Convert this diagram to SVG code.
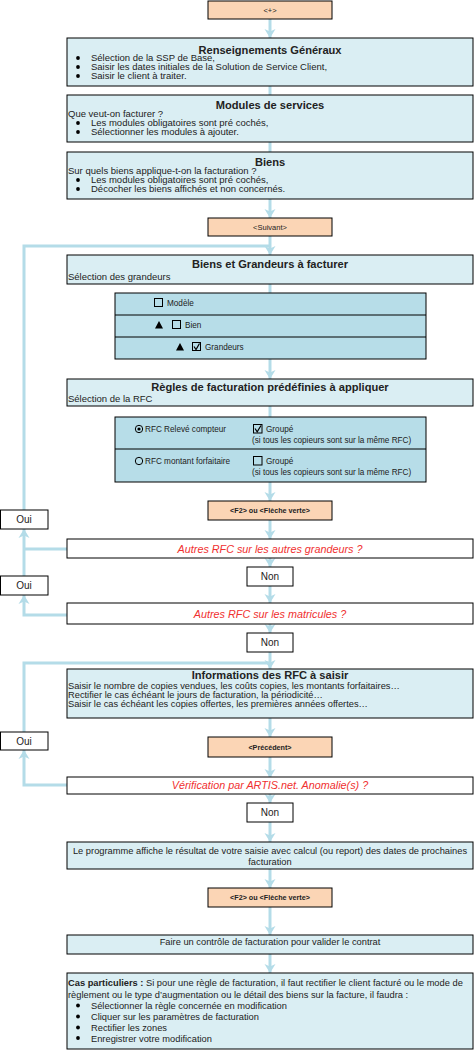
<svg xmlns="http://www.w3.org/2000/svg" width="474" height="1050" viewBox="0 0 474 1050">
<style>
text{font-family:"Liberation Sans",Arial,sans-serif;fill:#222}
.box{fill:#DAEEF3;stroke:#000;stroke-width:1}
.tbl{fill:#B7DDE8;stroke:#000;stroke-width:1}
.peach{fill:#FBD5B5;stroke:#000;stroke-width:1}
.wb{fill:#fff;stroke:#000;stroke-width:1}
.title{font-size:11.1px;font-weight:bold;text-anchor:middle}
.body{font-size:9.5px}
.cas{font-size:9.3px}
.ctr{font-size:9.3px;text-anchor:middle}
.sm{font-size:7.5px;text-anchor:middle}
.smb{font-size:7.2px;font-weight:bold;text-anchor:middle}
.q{font-size:10.8px;font-style:italic;fill:#F03030;text-anchor:middle}
.yn{font-size:10px;text-anchor:middle}
.t7{font-size:8.2px}
.cb{fill:none;stroke:#000;stroke-width:1}
.ck{fill:none;stroke:#000;stroke-width:1.2}
.con{fill:none;stroke:#B4DCE8;stroke-width:3}
.arr{marker-end:url(#ah)}
</style>
<defs>
<marker id="ah" markerUnits="userSpaceOnUse" markerWidth="10" markerHeight="12" refX="9" refY="6" orient="auto">
<path d="M0,0.5 L9,6 L0,11.5 L2.5,6 z" fill="#B4DCE8"/>
</marker>
</defs>

<g id="connectors">
<path class="con arr" d="M270,19 V38"/>
<path class="con" d="M270,86 V95"/>
<path class="con" d="M270,142 V152"/>
<path class="con arr" d="M270,199 V218"/>
<path class="con arr" d="M270,236 V255"/>
<path class="con" d="M24,510 V246 H270"/>
<path class="con" d="M270,284 V293"/>
<path class="con arr" d="M270,359 V379"/>
<path class="con" d="M270,406 V417"/>
<path class="con arr" d="M270,482 V501"/>
<path class="con arr" d="M270,520 V539"/>
<path class="con arr" d="M270,558 V567"/>
<path class="con arr" d="M270,586 V603"/>
<path class="con arr" d="M270,624 V633"/>
<path class="con arr" d="M270,652 V669"/>
<path class="con" d="M24,732 V663 H270"/>
<path class="con arr" d="M270,718 V737"/>
<path class="con arr" d="M270,757 V778"/>
<path class="con arr" d="M270,794 V803"/>
<path class="con arr" d="M270,822 V842"/>
<path class="con arr" d="M270,869 V888"/>
<path class="con arr" d="M270,907 V935"/>
<path class="con arr" d="M270,954 V973"/>
<path class="con" d="M67,549 H24"/>
<path class="con arr" d="M24,576 V529"/>
<path class="con arr" d="M67,615 H24 V595"/>
<path class="con arr" d="M67,785 H24 V750"/>
</g>

<g id="n-start">
<rect class="peach" x="208" y="1" width="124" height="18"/>
<text class="sm" x="270" y="12.8">&lt;+&gt;</text>
</g>

<g id="n-renseignements">
<rect class="box" x="67" y="38" width="406" height="48"/>
<text class="title" x="270" y="54">Renseignements Généraux</text>
<circle cx="78" cy="58" r="1.9"/><circle cx="78" cy="67" r="1.9"/><circle cx="78" cy="76" r="1.9"/>
<text class="body" x="91" y="61.3">Sélection de la SSP de Base,</text>
<text class="body" x="91" y="70.3">Saisir les dates initiales de la Solution de Service Client,</text>
<text class="body" x="91" y="79.3">Saisir le client à traiter.</text>
</g>

<g id="n-modules">
<rect class="box" x="67" y="95" width="406" height="47"/>
<text class="title" x="270" y="108.5">Modules de services</text>
<text class="body" x="68" y="117">Que veut-on facturer ?</text>
<circle cx="78" cy="123" r="1.9"/><circle cx="78" cy="132" r="1.9"/>
<text class="body" x="91" y="126.3">Les modules obligatoires sont pré cochés,</text>
<text class="body" x="91" y="135.3">Sélectionner les modules à ajouter.</text>
</g>

<g id="n-biens">
<rect class="box" x="67" y="152" width="406" height="47"/>
<text class="title" x="270" y="165.5">Biens</text>
<text class="body" x="68" y="174">Sur quels biens applique-t-on la facturation ?</text>
<circle cx="78" cy="180" r="1.9"/><circle cx="78" cy="189" r="1.9"/>
<text class="body" x="91" y="183.3">Les modules obligatoires sont pré cochés,</text>
<text class="body" x="91" y="192.3">Décocher les biens affichés et non concernés.</text>
</g>

<g id="n-suivant">
<rect class="peach" x="208" y="218" width="124" height="18"/>
<text class="sm" x="270" y="229.7">&lt;Suivant&gt;</text>
</g>

<g id="n-grandeurs">
<rect class="box" x="67" y="255" width="406" height="29"/>
<text class="title" x="270" y="268">Biens et Grandeurs à facturer</text>
<text class="body" x="68" y="279.5">Sélection des grandeurs</text>
</g>

<g id="n-table-grandeurs">
<rect class="tbl" x="115" y="293" width="311" height="66"/>
<line x1="115" y1="315" x2="426" y2="315" stroke="#000"/>
<line x1="115" y1="337" x2="426" y2="337" stroke="#000"/>
<rect class="cb" x="154.5" y="298.5" width="8" height="8"/>
<text class="t7" x="167" y="306">Modèle</text>
<path d="M155,328.5 L159,321 L163,328.5 z" fill="#000"/>
<rect class="cb" x="172.5" y="320.5" width="8" height="8"/>
<text class="t7" x="185" y="328">Bien</text>
<path d="M176,350.5 L180,343 L184,350.5 z" fill="#000"/>
<rect class="cb" x="192.5" y="342.5" width="8" height="8"/>
<path class="ck" d="M194,346.5 L196,349.5 L199.5,343.5"/>
<text class="t7" x="205" y="350">Grandeurs</text>
</g>

<g id="n-regles">
<rect class="box" x="67" y="379" width="406" height="27"/>
<text class="title" x="270" y="391">Règles de facturation prédéfinies à appliquer</text>
<text class="body" x="68" y="401.5">Sélection de la RFC</text>
</g>

<g id="n-table-rfc">
<rect class="tbl" x="115" y="417" width="311" height="65"/>
<line x1="115" y1="449" x2="426" y2="449" stroke="#000"/>
<circle cx="139" cy="429" r="3.7" fill="none" stroke="#000"/>
<circle cx="139" cy="429" r="1.6" fill="#000"/>
<text class="t7" x="145" y="432">RFC Relevé compteur</text>
<rect class="cb" x="253.5" y="424.5" width="8.5" height="8.5"/>
<path class="ck" d="M255,428.5 L257.2,431.8 L261,425.5"/>
<text class="t7" x="266" y="432">Groupé</text>
<text class="t7" x="252" y="443">(si tous les copieurs sont sur la même RFC)</text>
<circle cx="139" cy="461" r="3.7" fill="none" stroke="#000"/>
<text class="t7" x="145" y="464">RFC montant forfaitaire</text>
<rect class="cb" x="253.5" y="456.5" width="8.5" height="8.5"/>
<text class="t7" x="266" y="464">Groupé</text>
<text class="t7" x="252" y="475">(si tous les copieurs sont sur la même RFC)</text>
</g>

<g id="n-f2-1">
<rect class="peach" x="208" y="501" width="124" height="19"/>
<text class="smb" x="270" y="513">&lt;F2&gt; ou &lt;Flèche verte&gt;</text>
</g>

<g id="n-oui-1">
<rect class="wb" x="0.5" y="510" width="47.5" height="19"/>
<text class="yn" x="24" y="523">Oui</text>
</g>

<g id="n-q1">
<rect class="wb" x="67" y="539" width="406" height="19"/>
<text class="q" x="270" y="552.5">Autres RFC sur les autres grandeurs ?</text>
</g>

<g id="n-non-1">
<rect class="wb" x="247" y="567" width="46" height="19"/>
<text class="yn" x="270" y="580">Non</text>
</g>

<g id="n-oui-2">
<rect class="wb" x="0.5" y="576" width="47.5" height="19"/>
<text class="yn" x="24" y="589">Oui</text>
</g>

<g id="n-q2">
<rect class="wb" x="67" y="603" width="406" height="21"/>
<text class="q" x="270" y="617.8">Autres RFC sur les matricules ?</text>
</g>

<g id="n-non-2">
<rect class="wb" x="247" y="633" width="46" height="19"/>
<text class="yn" x="270" y="646">Non</text>
</g>

<g id="n-infos">
<rect class="box" x="67" y="669" width="406" height="49"/>
<text class="title" x="270" y="679.3">Informations des RFC à saisir</text>
<text class="cas" x="68" y="689">Saisir le nombre de copies vendues, les coûts copies, les montants forfaitaires…</text>
<text class="cas" x="68" y="698">Rectifier le cas échéant le jours de facturation, la périodicité…</text>
<text class="cas" x="68" y="707">Saisir le cas échéant les copies offertes, les premières années offertes…</text>
</g>

<g id="n-precedent">
<rect class="peach" x="208" y="737" width="124" height="20"/>
<text class="smb" x="270" y="749.5">&lt;Précédent&gt;</text>
</g>

<g id="n-oui-3">
<rect class="wb" x="0.5" y="732" width="47.5" height="18"/>
<text class="yn" x="24" y="744.5">Oui</text>
</g>

<g id="n-q3">
<rect class="wb" x="67" y="777" width="406" height="17"/>
<text class="q" x="270" y="789.3">Vérification par ARTIS.net. Anomalie(s) ?</text>
</g>

<g id="n-non-3">
<rect class="wb" x="247" y="803" width="46" height="19"/>
<text class="yn" x="270" y="816">Non</text>
</g>

<g id="n-resultat">
<rect class="box" x="67" y="842" width="406" height="27"/>
<text class="ctr" x="270" y="853.5">Le programme affiche le résultat de votre saisie avec calcul (ou report) des dates de prochaines</text>
<text class="ctr" x="270" y="864.5">facturation</text>
</g>

<g id="n-f2-2">
<rect class="peach" x="208" y="888" width="124" height="19"/>
<text class="smb" x="270" y="900">&lt;F2&gt; ou &lt;Flèche verte&gt;</text>
</g>

<g id="n-controle">
<rect class="box" x="67" y="935" width="406" height="19"/>
<text class="ctr" x="270" y="944.5">Faire un contrôle de facturation pour valider le contrat</text>
</g>

<g id="n-cas">
<rect class="box" x="67" y="973" width="406" height="76"/>
<text class="cas" x="68" y="986.3"><tspan font-weight="bold">Cas particuliers :</tspan> Si pour une règle de facturation, il faut rectifier le client facturé ou le mode de</text>
<text class="cas" x="68" y="997.5">règlement ou le type d’augmentation ou le détail des biens sur la facture, il faudra :</text>
<circle cx="78" cy="1005.5" r="1.9"/><circle cx="78" cy="1016.5" r="1.9"/><circle cx="78" cy="1027.5" r="1.9"/><circle cx="78" cy="1038" r="1.9"/>
<text class="cas" x="91" y="1009">Sélectionner la règle concernée en modification</text>
<text class="cas" x="91" y="1020">Cliquer sur les paramètres de facturation</text>
<text class="cas" x="91" y="1031">Rectifier les zones</text>
<text class="cas" x="91" y="1041.5">Enregistrer votre modification</text>
</g>
</svg>
